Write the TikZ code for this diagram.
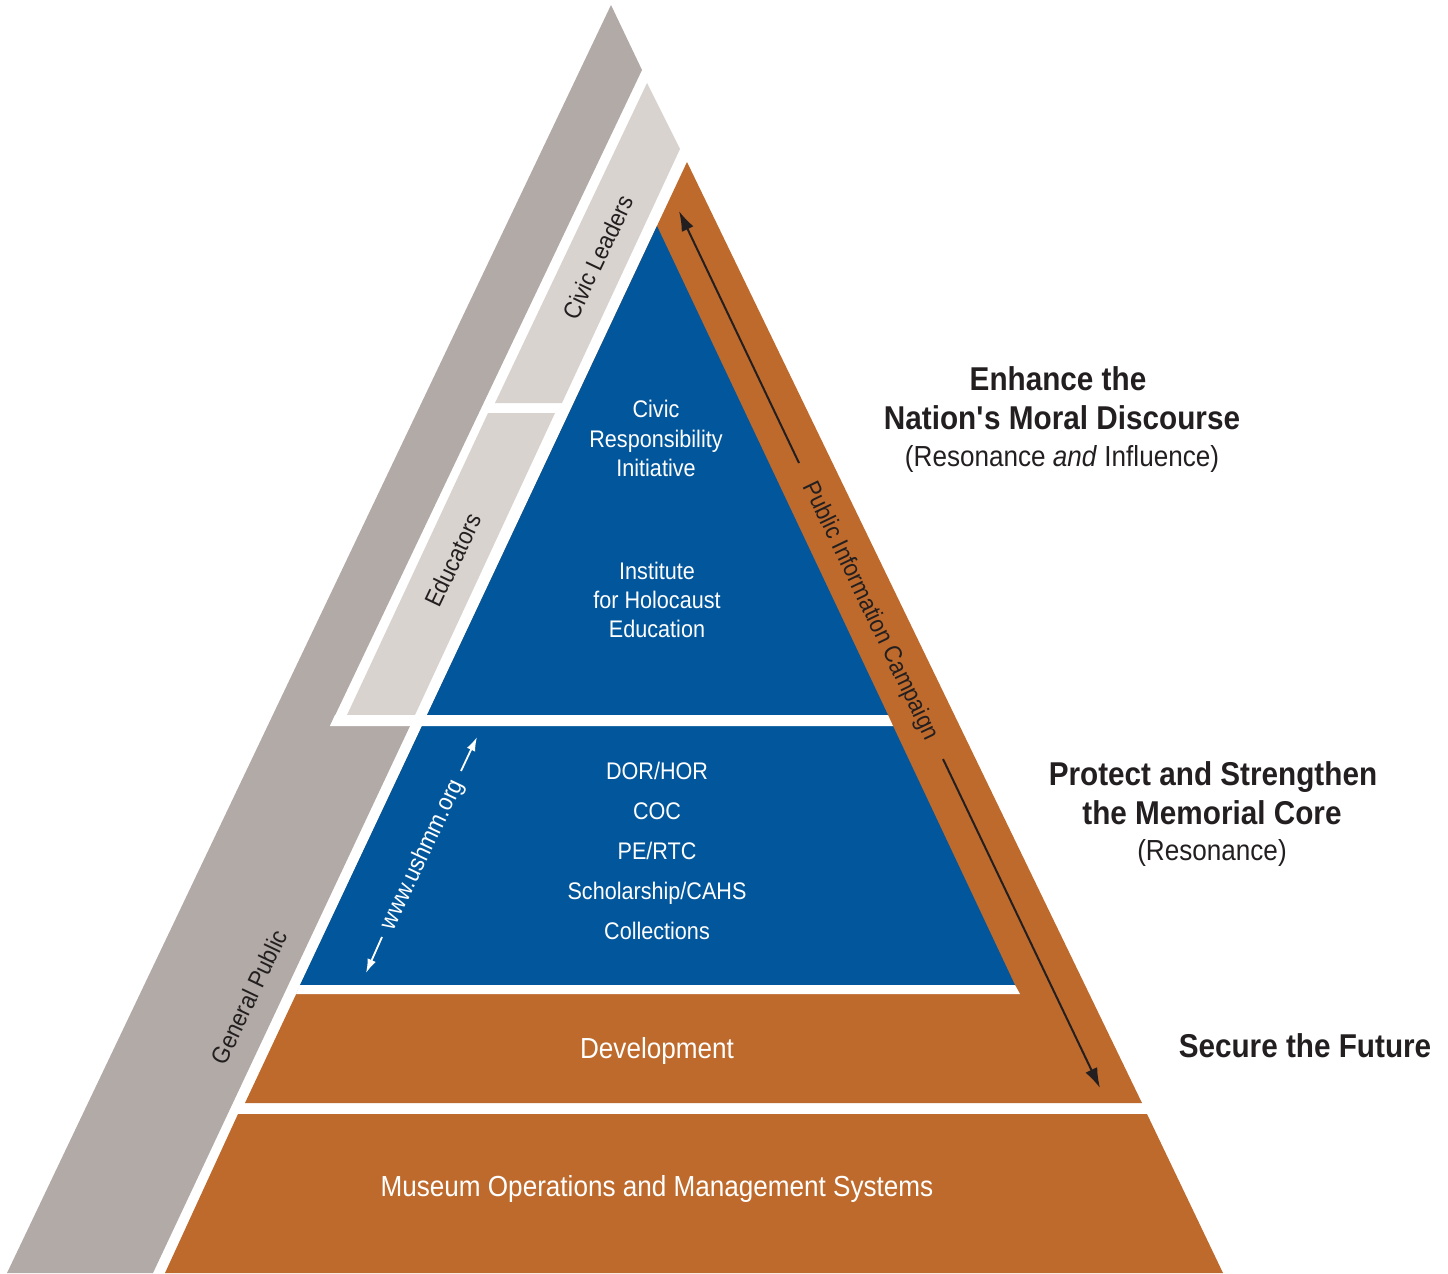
\documentclass[tikz,border=0pt]{standalone}
\usepackage{fontspec}
\setmainfont{Liberation Sans}[FakeStretch=0.9]
\usetikzlibrary{arrows.meta}
\definecolor{ublue}{RGB}{2,86,155}
\definecolor{uorange}{RGB}{190,106,44}
\definecolor{ugray}{RGB}{178,170,167}
\definecolor{ulight}{RGB}{216,211,207}
\definecolor{utext}{RGB}{35,31,32}
\tikzset{
  wlabel/.style={text=white, font=\fontsize{24}{28}\selectfont, anchor=base, inner sep=0pt},
  blabel/.style={text=white, font=\fontsize{29}{34}\selectfont, anchor=base, inner sep=0pt},
  slabel/.style={text=utext, font=\fontsize{24.5}{28}\selectfont, inner sep=0pt},
  rwlabel/.style={text=white, font=\fontsize{24.5}{28}\selectfont, inner sep=0pt},
  headb/.style={text=utext, font=\bfseries\fontsize{33}{38}\selectfont, anchor=base, inner sep=0pt},
  headr/.style={text=utext, font=\fontsize{29}{34}\selectfont, anchor=base, inner sep=0pt},
  darrow/.style={draw=utext, line width=2pt, -{Latex[length=20pt,width=13pt]}},
  warrow/.style={draw=white, line width=1.8pt, -{Latex[length=14pt,width=9pt]}},
}
\begin{document}
\begin{tikzpicture}[x=1pt,y=-1pt]
\useasboundingbox (0,0) rectangle (1448,1274);
% General Public band
\fill[ugray] (611,5) -- (642,70) -- (330,726) -- (410,726) -- (153,1273) -- (7,1273) -- cycle;
% Civic Leaders and Educators bands
\fill[ulight] (647,83) -- (680,149) -- (562,403) -- (495,403) -- cycle;
\fill[ulight] (488,413) -- (555,413) -- (415,715) -- (347,715) -- cycle;
% orange core (Public Information Campaign + Development)
\fill[uorange] (687,162) -- (1142,1103) -- (245,1103) -- cycle;
% blue sections
\fill[ublue] (657,226) -- (888,715) -- (427,715) -- cycle;
\fill[ublue] (422,726) -- (893,726) -- (1015,985) -- (300,985) -- cycle;
% white separators
\fill[white] (335,715) -- (888,715) -- (893,726) -- (330,726) -- cycle;
\fill[white] (300,985) -- (1015,985) -- (1020,994) -- (296,994) -- cycle;
% Museum operations base
\fill[uorange] (238,1114) -- (1147,1114) -- (1223,1273) -- (165,1273) -- cycle;

% texts in the blue
\node[wlabel] (civ1) at (656,417) {Civic};
\node[wlabel] (civ2) at (656,447) {Responsibility};
\node[wlabel] (civ3) at (656,476) {Initiative};
\node[wlabel] (ihe1) at (657,579) {Institute};
\node[wlabel] (ihe2) at (657,608) {for Holocaust};
\node[wlabel] (ihe3) at (657,637) {Education};
\node[wlabel] (dor) at (657,779) {DOR/HOR};
\node[wlabel] (coc) at (657,819) {COC};
\node[wlabel] (pe) at (657,859) {PE/RTC};
\node[wlabel] (sch) at (657,899) {Scholarship/CAHS};
\node[wlabel] (col) at (657,939) {Collections};
\node[blabel] (dev) at (657,1058) {Development};
\node[blabel] (mus) at (657,1196) {Museum Operations and Management Systems};

% rotated band labels
\node[slabel, rotate=64.5] (civl) at (598,257) {Civic Leaders};
\node[slabel, rotate=64.5] (edu) at (453,560) {Educators};
\node[slabel, rotate=64.5] (gen) at (249,997) {General Public};
\node[slabel, rotate=-64.3] (pic) at (870,611) {Public Information Campaign};
\node[rwlabel, rotate=64.7] (web) at (423,855) {www.ushmm.org};

% arrows
\coordinate (pa1) at (799,463);
\coordinate (pa2) at (679,211);
\coordinate (pb1) at (943,759);
\coordinate (pb2) at (1100,1088);
\coordinate (wa1) at (461,771);
\coordinate (wa2) at (477,737);
\coordinate (wb1) at (382,937);
\coordinate (wb2) at (366,973);
\draw[darrow] (pa1) -- (pa2);
\draw[darrow] (pb1) -- (pb2);
\draw[warrow] (wa1) -- (wa2);
\draw[warrow] (wb1) -- (wb2);

% headings
\node[headb] (h1a) at (1058,390) {Enhance the};
\node[headb] (h1b) at (1062,429) {Nation\textquotesingle s Moral Discourse};
\node[headr] (h1c) at (1062,466) {(Resonance \textit{and} Influence)};
\node[headb] (h2a) at (1213,785) {Protect and Strengthen};
\node[headb] (h2b) at (1212,824) {the Memorial Core};
\node[headr] (h2c) at (1212,860) {(Resonance)};
\node[headb] (h3) at (1305,1057) {Secure the Future};
\end{tikzpicture}
\end{document}
